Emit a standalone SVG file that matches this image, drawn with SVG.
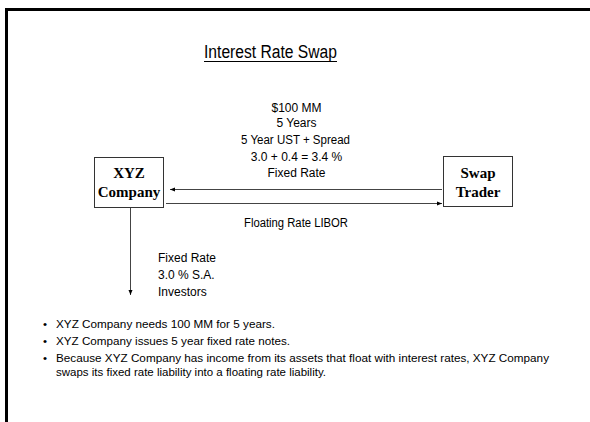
<svg xmlns="http://www.w3.org/2000/svg" width="590" height="422" viewBox="0 0 590 422">
<style>
.box{fill:#fff;stroke:#333;stroke-width:1}
.nt{font-family:"Liberation Serif","Times New Roman",serif;font-weight:bold;font-size:15px;fill:#000;text-anchor:middle}
.lb{font-family:"Liberation Sans",Arial,sans-serif;font-size:12px;fill:#000}
.c{text-anchor:middle}
.conn{stroke:#444;stroke-width:1;fill:none}
</style>
<defs>
<marker id="ah" markerWidth="6" markerHeight="6" refX="5" refY="3" orient="auto" markerUnits="userSpaceOnUse">
<path d="M0,1 L5,3 L0,5 Z" fill="#000"/>
</marker>
</defs>
<rect x="0" y="0" width="590" height="422" fill="#fff"/>
<rect x="6.5" y="9.5" width="620" height="450" fill="none" stroke="#000" stroke-width="3"/>
<g id="title">
<text x="270.5" y="58" font-family="'Liberation Sans',Arial,sans-serif" font-size="18" text-anchor="middle" textLength="133" lengthAdjust="spacingAndGlyphs">Interest Rate Swap</text>
<line x1="204" y1="61.5" x2="337" y2="61.5" stroke="#000" stroke-width="1"/>
</g>
<g id="connectors">
<line class="conn" x1="442" y1="189.5" x2="170" y2="189.5" marker-end="url(#ah)"/>
<line class="conn" x1="166" y1="203.5" x2="442" y2="203.5" marker-end="url(#ah)"/>
<line class="conn" x1="130.5" y1="208" x2="130.5" y2="295" marker-end="url(#ah)"/>
</g>
<g id="xyz-company">
<rect class="box" x="94.5" y="157.5" width="69" height="50"/>
<text class="nt" x="129" y="178">XYZ</text>
<text class="nt" x="129" y="197">Company</text>
</g>
<g id="swap-trader">
<rect class="box" x="443.5" y="156.5" width="69" height="50"/>
<text class="nt" x="478" y="178">Swap</text>
<text class="nt" x="478" y="197">Trader</text>
</g>
<g id="swap-terms" class="lb">
<text class="c" x="296.5" y="111.5">$100 MM</text>
<text class="c" x="296.5" y="127">5 Years</text>
<text class="c" x="295.5" y="143.5" textLength="109" lengthAdjust="spacingAndGlyphs">5 Year UST + Spread</text>
<text class="c" x="296.5" y="160.5">3.0 + 0.4 = 3.4 %</text>
<text class="c" x="296.5" y="177">Fixed Rate</text>
</g>
<g id="floating-label" class="lb">
<text class="c" x="296" y="227" textLength="104" lengthAdjust="spacingAndGlyphs">Floating Rate LIBOR</text>
</g>
<g id="investors" class="lb">
<text x="158" y="261.5">Fixed Rate</text>
<text x="158" y="279">3.0 % S.A.</text>
<text x="158" y="296">Investors</text>
</g>
<g id="bullets" font-family="'Liberation Sans',Arial,sans-serif" font-size="11.5" fill="#000">
<text x="43" y="328">•</text>
<text x="56" y="328" textLength="219" lengthAdjust="spacingAndGlyphs">XYZ Company needs 100 MM for 5 years.</text>
<text x="43" y="345">•</text>
<text x="56" y="345" textLength="234" lengthAdjust="spacingAndGlyphs">XYZ Company issues 5 year fixed rate notes.</text>
<text x="43" y="362">•</text>
<text x="56" y="362" textLength="493" lengthAdjust="spacingAndGlyphs">Because XYZ Company has income from its assets that float with interest rates, XYZ Company</text>
<text x="56" y="376" textLength="270" lengthAdjust="spacingAndGlyphs">swaps its fixed rate liability into a floating rate liability.</text>
</g>
</svg>
